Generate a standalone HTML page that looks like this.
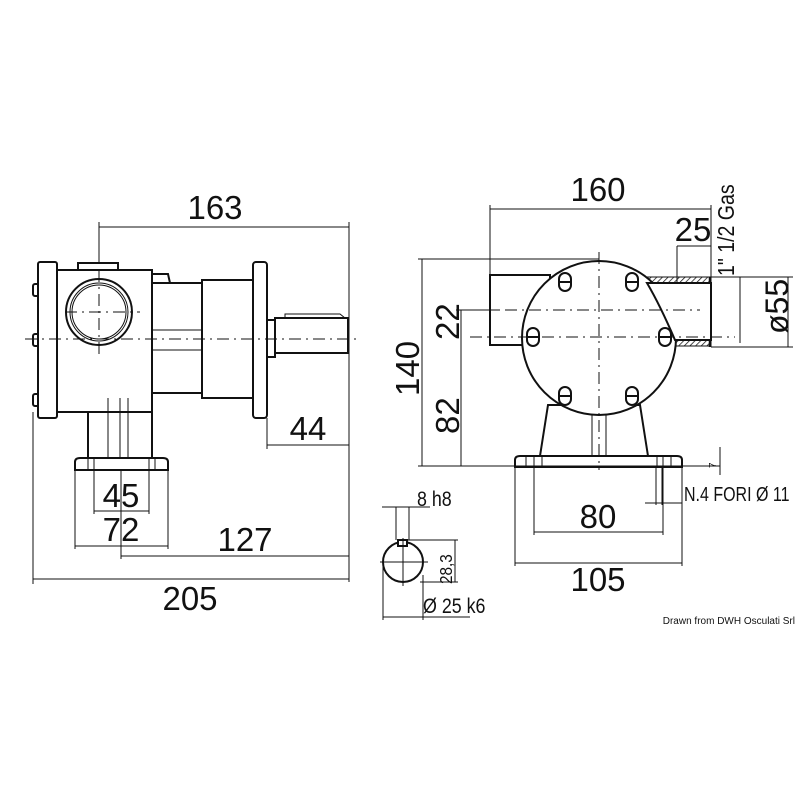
<!DOCTYPE html>
<html><head><meta charset="utf-8"><style>
html,body{margin:0;padding:0;background:#fff}
svg{display:block}
text{font-family:"Liberation Sans",sans-serif;fill:#111}
.l{stroke:#111;stroke-width:2;fill:#fff}
.t{stroke:#111;stroke-width:1;fill:none}
.c{stroke:#111;stroke-width:1;fill:none;stroke-dasharray:12 5 2 5}
</style></head><body>
<svg width="800" height="800" viewBox="0 0 800 800" xmlns="http://www.w3.org/2000/svg">
<defs><pattern id="h" width="4" height="4" patternUnits="userSpaceOnUse" patternTransform="rotate(45)"><line x1="0" y1="0" x2="0" y2="4" stroke="#111" stroke-width="1.5"/></pattern></defs>
<!-- LEFT VIEW -->
<g>
<rect class="l" x="33" y="284" width="6" height="12" rx="2"/>
<rect class="l" x="33" y="334" width="6" height="12" rx="2"/>
<rect class="l" x="33" y="394" width="6" height="12" rx="2"/>
<rect class="l" x="38" y="262" width="19" height="156" rx="2"/>
<path class="l" d="M78 270 L78 263 L118 263 L118 270 Z"/>
<rect class="l" x="57" y="270" width="95" height="142"/>
<path class="l" d="M152 274 L168 274 L170 283 L152 283 Z"/>
<circle class="l" cx="99" cy="312" r="33"/>
<circle class="t" cx="99" cy="312" r="29"/>
<circle class="t" cx="99" cy="312" r="27"/>
<rect class="l" x="152" y="283" width="50" height="110"/>
<rect class="l" x="202" y="280" width="51" height="118"/>
<rect class="l" x="253" y="262" width="14" height="156" rx="3"/>
<rect class="l" x="267" y="320" width="8" height="37"/>
<rect class="l" x="275" y="318" width="73" height="35"/>
<path class="t" d="M285 318 L285 314 L340 314 L345 318"/>
<line class="t" x1="152" y1="330" x2="202" y2="330"/>
<line class="t" x1="152" y1="350" x2="202" y2="350"/>
<rect class="l" x="88" y="412" width="64" height="46"/>
<path class="t" d="M108 398 L108 458 M120 398 L120 458 M128 398 L128 458"/>
<path class="l" d="M75 470 L75 462 Q75 458 80 458 L163 458 Q168 458 168 462 L168 470 Z"/>
<path class="t" d="M88 458 L88 470 M94 458 L94 470 M149 458 L149 470 M155 458 L155 470"/>
<line class="c" x1="25" y1="339" x2="358" y2="339"/>
<line class="c" x1="65" y1="312" x2="140" y2="312"/>
<line class="c" x1="99" y1="270" x2="99" y2="355"/>
<!-- dims -->
<line class="t" x1="99" y1="222" x2="99" y2="262"/>
<line class="t" x1="99" y1="227" x2="349" y2="227"/>
<line class="t" x1="349" y1="222" x2="349" y2="582"/>
<text x="215" y="219" font-size="33" text-anchor="middle">163</text>
<line class="t" x1="267" y1="418" x2="267" y2="449"/>
<line class="t" x1="267" y1="445" x2="349" y2="445"/>
<text x="308" y="440" font-size="33" text-anchor="middle">44</text>
<line class="t" x1="94" y1="470" x2="94" y2="514"/>
<line class="t" x1="149" y1="470" x2="149" y2="514"/>
<line class="t" x1="94" y1="511" x2="149" y2="511"/>
<text x="121" y="507" font-size="33" text-anchor="middle">45</text>
<line class="t" x1="75" y1="470" x2="75" y2="549"/>
<line class="t" x1="168" y1="470" x2="168" y2="549"/>
<line class="t" x1="75" y1="546" x2="168" y2="546"/>
<text x="121" y="541" font-size="33" text-anchor="middle">72</text>
<line class="t" x1="121" y1="470" x2="121" y2="559"/>
<line class="t" x1="121" y1="556" x2="349" y2="556"/>
<text x="245" y="551" font-size="33" text-anchor="middle">127</text>
<line class="t" x1="33" y1="412" x2="33" y2="584"/>
<line class="t" x1="33" y1="579" x2="349" y2="579"/>
<text x="190" y="610" font-size="33" text-anchor="middle">205</text>
</g>
<!-- RIGHT VIEW -->
<g>
<rect class="l" x="490" y="275" width="60" height="70"/>
<rect x="647" y="277" width="64" height="6" fill="url(#h)" stroke="#111"/>
<rect x="673" y="340" width="38" height="6" fill="url(#h)" stroke="#111"/>
<line x1="710" y1="277" x2="710" y2="347" stroke="#111" stroke-width="2.5"/>
<line class="t" x1="677" y1="246" x2="677" y2="340"/>
<path class="l" d="M548 405 L540 456 L648 456 L640 405 Z"/>
<path class="t" d="M592 410 L592 456 M606 410 L606 456"/>
<circle class="l" cx="599" cy="338" r="77"/>
<path class="l" d="M647 283 Q660 305 675 340 L711 340 L711 283 Z" stroke-width="1.5"/>
<g fill="#fff" stroke="#111" stroke-width="2">
<rect x="559" y="273" width="12" height="18" rx="6"/><rect x="626" y="273" width="12" height="18" rx="6"/>
<rect x="527" y="328" width="12" height="18" rx="6"/><rect x="659" y="328" width="12" height="18" rx="6"/>
<rect x="559" y="387" width="12" height="18" rx="6"/><rect x="626" y="387" width="12" height="18" rx="6"/>
</g>
<g stroke="#111" stroke-width="2"><line x1="559" y1="282" x2="571" y2="282"/><line x1="626" y1="282" x2="638" y2="282"/><line x1="527" y1="337" x2="539" y2="337"/><line x1="659" y1="337" x2="671" y2="337"/><line x1="559" y1="396" x2="571" y2="396"/><line x1="626" y1="396" x2="638" y2="396"/></g>
<path class="l" d="M515 467 L515 460 Q515 456 520 456 L677 456 Q682 456 682 460 L682 467 Z"/>
<path class="t" d="M526 456 L526 467 M534 456 L534 467 M542 456 L542 467 M657 456 L657 467 M663 456 L663 467 M671 456 L671 467"/>
<line class="c" x1="599" y1="252" x2="599" y2="470"/>
<line class="c" x1="505" y1="310" x2="700" y2="310"/>
<line class="c" x1="470" y1="337" x2="735" y2="337"/>
<!-- dims -->
<line class="t" x1="490" y1="205" x2="490" y2="275"/>
<line class="t" x1="490" y1="209" x2="711" y2="209"/>
<line class="t" x1="711" y1="205" x2="711" y2="277"/>
<text x="598" y="201" font-size="33" text-anchor="middle">160</text>
<line class="t" x1="677" y1="246" x2="711" y2="246"/>
<text x="693" y="241" font-size="33" text-anchor="middle">25</text>
<text transform="translate(734,276) rotate(-90) scale(0.85,1)" font-size="23">1" 1/2 Gas</text>
<line class="t" x1="711" y1="277" x2="793" y2="277"/>
<line class="t" x1="711" y1="347" x2="793" y2="347"/>
<line class="t" x1="788" y1="277" x2="788" y2="347"/>
<line class="t" x1="740" y1="277" x2="740" y2="343"/>
<text transform="translate(788,334) rotate(-90)" font-size="32">ø55</text>
<line class="t" x1="418" y1="259" x2="599" y2="259"/>
<line class="t" x1="422" y1="259" x2="422" y2="466"/>
<line class="t" x1="418" y1="466" x2="720" y2="466"/>
<text transform="translate(419,396) rotate(-90)" font-size="33">140</text>
<line class="t" x1="456" y1="310" x2="500" y2="310"/>
<line class="t" x1="461" y1="310" x2="461" y2="466"/>
<text transform="translate(459,340) rotate(-90)" font-size="33">22</text>
<text transform="translate(459,434) rotate(-90)" font-size="33">82</text>
<line class="t" x1="720" y1="447" x2="720" y2="475"/>
<text transform="translate(716,468) rotate(-90)" font-size="10">7</text>
<line class="t" x1="656" y1="467" x2="656" y2="505"/>
<line class="t" x1="662" y1="467" x2="662" y2="505"/>
<line class="t" x1="645" y1="503" x2="682" y2="503"/>
<text transform="translate(684,501) scale(0.8,1)" font-size="20">N.4 FORI Ø 11</text>
<line class="t" x1="534" y1="467" x2="534" y2="535"/>
<line class="t" x1="663" y1="467" x2="663" y2="535"/>
<line class="t" x1="534" y1="532" x2="663" y2="532"/>
<text x="598" y="528" font-size="33" text-anchor="middle">80</text>
<line class="t" x1="515" y1="467" x2="515" y2="566"/>
<line class="t" x1="682" y1="467" x2="682" y2="566"/>
<line class="t" x1="515" y1="563" x2="682" y2="563"/>
<text x="598" y="591" font-size="33" text-anchor="middle">105</text>
<!-- shaft section -->
<circle class="l" cx="403" cy="562" r="20"/>
<rect class="l" x="398" y="540" width="9" height="6"/>
<line class="t" x1="380" y1="562" x2="428" y2="562"/>
<line class="t" x1="403" y1="538" x2="403" y2="586"/>
<line class="t" x1="382" y1="507" x2="430" y2="507"/>
<line class="t" x1="396" y1="507" x2="396" y2="540"/>
<line class="t" x1="409" y1="507" x2="409" y2="540"/>
<text transform="translate(417,506) scale(0.85,1)" font-size="21">8 h8</text>
<line class="t" x1="408" y1="540" x2="458" y2="540"/>
<line class="t" x1="420" y1="582" x2="458" y2="582"/>
<line class="t" x1="455" y1="540" x2="455" y2="582"/>
<text transform="translate(452,584) rotate(-90) scale(0.85,1)" font-size="18">28,3</text>
<line class="t" x1="383" y1="562" x2="383" y2="620"/>
<line class="t" x1="423" y1="575" x2="423" y2="620"/>
<line class="t" x1="383" y1="617" x2="470" y2="617"/>
<text transform="translate(423,613) scale(0.85,1)" font-size="21">Ø 25 k6</text>
</g>
<text x="795" y="624" font-size="10" text-anchor="end">Drawn from DWH Osculati Srl</text>
</svg>
</body></html>
